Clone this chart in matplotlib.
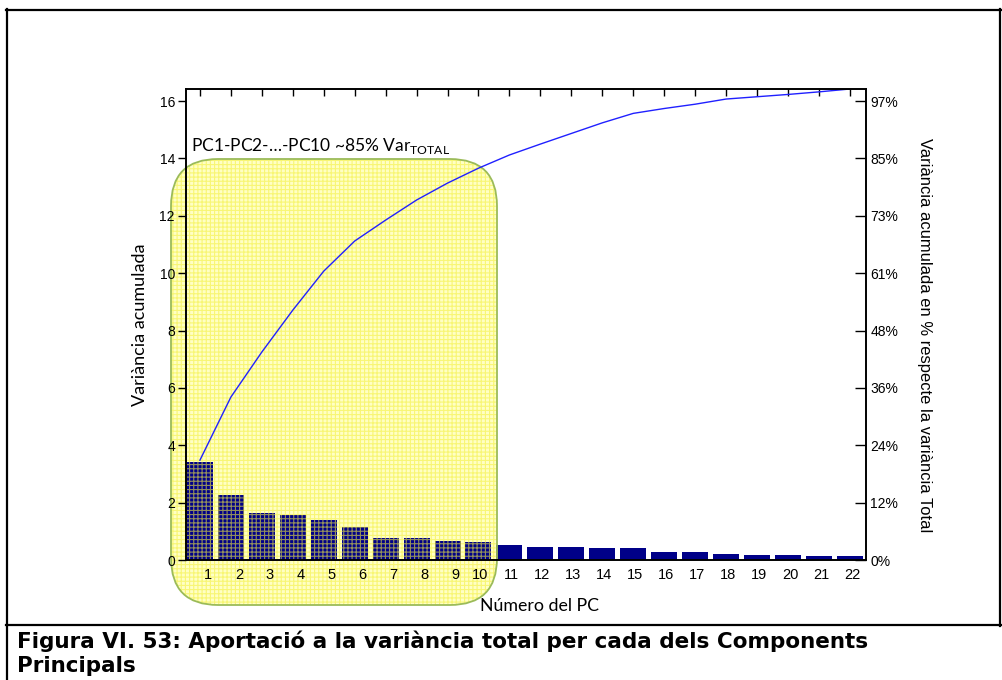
import matplotlib
matplotlib.use("Agg")
import matplotlib.pyplot as plt
import numpy as np
from matplotlib.patches import FancyBboxPatch
from matplotlib.lines import Line2D
import matplotlib.transforms as mtrans

plt.rcParams['mathtext.fontset'] = 'custom'
plt.rcParams['mathtext.rm'] = 'Lato'
plt.rcParams['hatch.linewidth'] = 0.8

# ---- data ----
pc_numbers = list(range(1, 23))
pc_labels = [str(i) for i in pc_numbers]
eigenvalues = [3.43, 2.27, 1.65, 1.56, 1.38, 1.15, 0.76, 0.76, 0.66, 0.63,
               0.53, 0.45, 0.45, 0.41, 0.41, 0.27, 0.27, 0.22, 0.17, 0.17,
               0.13, 0.13]
cumulative = [3.48, 5.68, 7.25, 8.71, 10.07, 11.12, 11.85, 12.55, 13.14, 13.66,
              14.12, 14.50, 14.87, 15.24, 15.57, 15.74, 15.89, 16.07, 16.15,
              16.23, 16.32, 16.42]
left_ticks = [0, 2, 4, 6, 8, 10, 12, 14, 16]
right_tick_labels = ['0%', '12%', '24%', '36%', '48%', '61%', '73%', '85%', '97%']

annot_text = r'PC1-PC2-…-PC10 ~85% Var$_{\mathrm{TOTAL}}$'
caption_lines = ["Figura VI. 53: Aportació a la variància total per cada dels Components",
                 "Principals"]

W, H = 1002, 680
fig = plt.figure(figsize=(W / 100, H / 100), dpi=100)
fig.patch.set_facecolor('white')

ax_l, ax_r, ax_t, ax_b = 186, 866, 89, 560
ax = fig.add_axes([ax_l / W, (H - ax_b) / H, (ax_r - ax_l) / W, (ax_b - ax_t) / H])
ax.set_facecolor('white')

bars = ax.bar(pc_numbers, eigenvalues, width=0.84, color='#000088', zorder=1.0)
ax.plot(pc_numbers, cumulative, color='#2020ff', lw=1.0, zorder=2.2)

ax.set_xlim(0.55, 22.52)
ax.set_ylim(0, cumulative[-1])
ax.set_yticks(left_ticks)
ax.set_yticklabels([str(t) for t in left_ticks], fontfamily='Liberation Sans', fontsize=10)
ax.set_xticks(pc_numbers)
ax.set_xticklabels(pc_labels, fontfamily='Liberation Sans', fontsize=10.5)
ax.tick_params(axis='x', bottom=False, top=True, direction='in', length=5,
               width=1, labelbottom=True, labeltop=False, pad=6)
ax.tick_params(axis='y', left=True, direction='out', length=6, width=1, pad=2)
for lab in ax.get_xticklabels():
    dx = 8 if len(lab.get_text()) == 1 else 2
    lab.set_transform(lab.get_transform() + mtrans.ScaledTranslation(dx / 100, 0, fig.dpi_scale_trans))
for sp in ax.spines.values():
    sp.set_linewidth(1.2)

ax.set_ylabel('Variància acumulada', fontfamily='Lato', fontsize=13)
ax.yaxis.set_label_coords((148 - ax_l) / (ax_r - ax_l), 0.5)
ax.set_xlabel('Número del PC', fontfamily='Lato', fontsize=12.8, va='center')
ax.xaxis.set_label_coords((539 - ax_l) / (ax_r - ax_l), -(606 - ax_b) / (ax_b - ax_t))

ax2 = ax.twinx()
ax2.set_ylim(ax.get_ylim())
ax2.set_yticks(left_ticks)
ax2.set_yticklabels(right_tick_labels, fontfamily='Liberation Sans', fontsize=10)
ax2.tick_params(axis='y', direction='in', length=8, width=1, pad=3)
ax2.set_ylabel('Variància acumulada en % respecte la variància Total',
               fontfamily='Liberation Sans', fontsize=11.9, rotation=270, va='center')
ax2.yaxis.set_label_coords((925 - ax_l) / (ax_r - ax_l), (560 - 335) / (ax_b - ax_t))
for sp in ax2.spines.values():
    sp.set_linewidth(1.2)

# ---- highlight box (in inches) ----
bx0, by_top, bx1, by_bot = 171, 159, 497, 605
box_kw = dict(boxstyle='round,pad=0,rounding_size=0.47',
              transform=fig.dpi_scale_trans, clip_on=False)
xy = (bx0 / 100, (H - by_bot) / 100)
bw, bh = (bx1 - bx0) / 100, (by_bot - by_top) / 100
face = FancyBboxPatch(xy, bw, bh, facecolor='#FFFFC4', edgecolor='none', zorder=0.3, **box_kw)
hatch = FancyBboxPatch(xy, bw, bh, facecolor='none', edgecolor='#F4F040', linewidth=0,
                       hatch='++++', alpha=0.6, zorder=1.2, **box_kw)
edge = FancyBboxPatch(xy, bw, bh, facecolor='none', edgecolor='#9BBB59', linewidth=1.3,
                      zorder=1.3, **box_kw)
for p in (face, hatch, edge):
    ax.add_patch(p)

ax.text(191 / 100, (H - 151) / 100, annot_text, transform=fig.dpi_scale_trans,
        fontfamily='Lato', fontsize=12.5, ha='left', va='baseline', zorder=3)

# ---- frame ----
def hline(y, x0, x1):
    fig.add_artist(Line2D([x0 / W, x1 / W], [1 - y / H, 1 - y / H], color='black', lw=1.6))

def vline(x, y0, y1):
    fig.add_artist(Line2D([x / W, x / W], [1 - y0 / H, 1 - y1 / H], color='black', lw=1.6))

hline(10, 6, 1002)
hline(625, 6, 1002)
vline(7, 9, 680)
vline(1000, 9, 626)

for i, line in enumerate(caption_lines):
    fig.text(17 / W, 1 - (648 + 24 * i) / H, line, fontfamily='DejaVu Sans',
             fontweight='bold', fontsize=15.5, ha='left', va='baseline')

fig.savefig('out.png', dpi=100)
